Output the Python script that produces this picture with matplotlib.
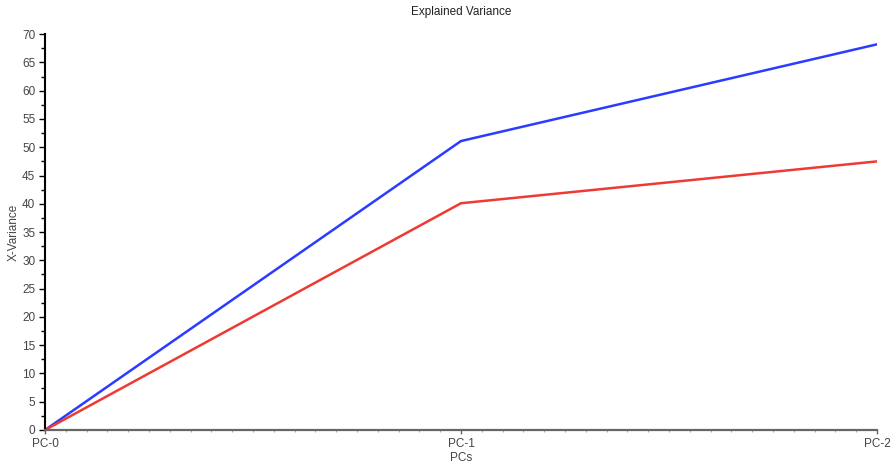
import matplotlib
matplotlib.use('Agg')
import matplotlib.pyplot as plt
from matplotlib.ticker import MultipleLocator

plt.rcParams['font.family'] = ['Liberation Sans', 'DejaVu Sans']

pcs = ['PC-0', 'PC-1', 'PC-2']
var_blue = [0, 51.1, 68.2]
var_red = [0, 40.1, 47.5]

fig = plt.figure(figsize=(8.93, 4.68), dpi=100)
ax = fig.add_axes([0.0504, 0.0812, 0.9316, 0.8458])

x = range(len(pcs))
ax.plot(x, var_blue, color='#2a3cff', lw=1.8)
ax.plot(x, var_red, color='#ee3a33', lw=1.8)

ax.set_xlim(0, 2)
ax.set_ylim(0, 70)
ax.set_xticks(list(x))
ax.set_xticklabels(pcs)
ax.xaxis.set_minor_locator(MultipleLocator(0.05))
ax.yaxis.set_major_locator(MultipleLocator(5))
ax.yaxis.set_minor_locator(MultipleLocator(2.5))

for s in ['top', 'right']:
    ax.spines[s].set_visible(False)
ax.spines['left'].set_color('black')
ax.spines['left'].set_linewidth(1.5)
ax.spines['bottom'].set_color('#666666')
ax.spines['bottom'].set_linewidth(1.6)

ax.tick_params(axis='y', which='major', length=4, width=1, colors='black', labelcolor='#444444', labelsize=8.5, pad=3)
ax.tick_params(axis='y', which='minor', length=3, width=1, colors='black')
ax.tick_params(axis='x', which='major', length=3, width=1, colors='#666666', labelcolor='#444444', labelsize=8.5, pad=3)
ax.tick_params(axis='x', which='minor', length=1.5, width=0.8, colors='#aaaaaa')

ax.set_title('Explained Variance', fontsize=8.5, color='#222222', pad=14)
ax.set_xlabel('PCs', fontsize=8.5, color='#444444', labelpad=1)
ax.set_ylabel('X-Variance', fontsize=8.5, color='#444444', labelpad=2)

fig.savefig('out.png', dpi=100, facecolor='white')
